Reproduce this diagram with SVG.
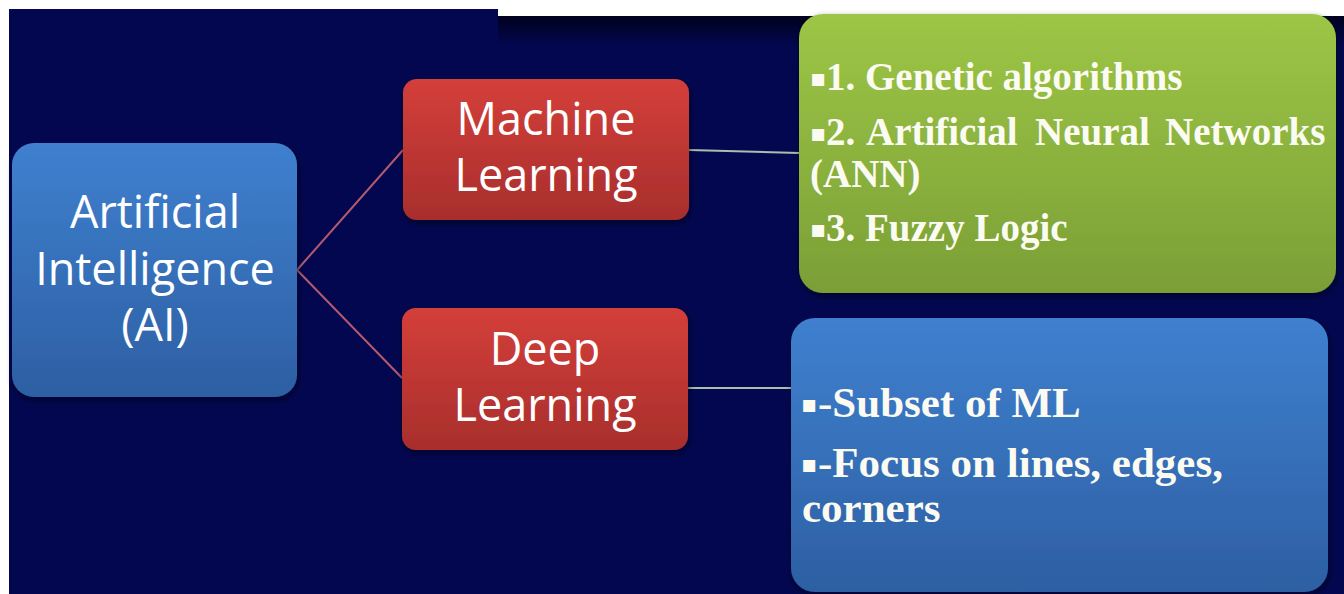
<svg xmlns="http://www.w3.org/2000/svg" width="1344" height="594" viewBox="0 0 1344 594">
  <defs>
    <linearGradient id="gBlue" x1="0" y1="0" x2="0" y2="1">
      <stop offset="0" stop-color="#3f80cf"/>
      <stop offset="1" stop-color="#2d5fa3"/>
    </linearGradient>
    <linearGradient id="gRed" x1="0" y1="0" x2="0" y2="1">
      <stop offset="0" stop-color="#d43f3a"/>
      <stop offset="1" stop-color="#a82e2c"/>
    </linearGradient>
    <linearGradient id="gGreen" x1="0" y1="0" x2="0" y2="1">
      <stop offset="0" stop-color="#9dc646"/>
      <stop offset="1" stop-color="#7b9f36"/>
    </linearGradient>
    <linearGradient id="gShade" x1="0" y1="0" x2="0" y2="1">
      <stop offset="0" stop-color="#000018" stop-opacity="0.9"/>
      <stop offset="1" stop-color="#000018" stop-opacity="0"/>
    </linearGradient>
    <filter id="drop" x="-5%" y="-5%" width="110%" height="115%">
      <feDropShadow dx="1" dy="3" stdDeviation="3" flood-color="#000010" flood-opacity="0.6"/>
    </filter>
  </defs>
  <style>
    .lbl { font-family: "Open Sans", "Noto Sans", sans-serif; font-size: 45px; fill: #ffffff; text-anchor: middle; }
    .bul { font-family: "Liberation Serif", "Times New Roman", serif; font-weight: bold; font-size: 39px; fill: #fbfbf2; }
    .big { font-size: 43px; }
    .sq { font-family: "DejaVu Sans", sans-serif; font-size: 24px; }
    .ln-red { stroke: #b45a6c; stroke-width: 2; fill: none; }
    .ln-pale { stroke: #a9bfae; stroke-width: 2; fill: none; }
  </style>

  <!-- page and slide backdrop -->
  <rect x="0" y="0" width="1344" height="594" fill="#ffffff"/>
  <rect x="9" y="9" width="1335" height="585" fill="#03074f"/>
  <rect x="498" y="16" width="846" height="30" fill="url(#gShade)"/>
  <rect x="498" y="0" width="846" height="16" fill="#ffffff"/>

  <!-- connectors -->
  <g id="connectors">
    <path class="ln-red" d="M297 270 L403 150"/>
    <path class="ln-red" d="M297 270 L402 378"/>
    <path class="ln-pale" d="M689 150 L799 153"/>
    <path class="ln-pale" d="M688 388 L791 388"/>
  </g>

  <!-- root concept -->
  <g id="node-ai">
    <rect x="12" y="143" width="285" height="254" rx="22" fill="url(#gBlue)" filter="url(#drop)"/>
    <text class="lbl" x="155" y="228">Artificial</text>
    <text class="lbl" x="155" y="285">Intelligence</text>
    <text class="lbl" x="155" y="341">(AI)</text>
  </g>

  <g id="node-ml">
    <rect x="403" y="79" width="286" height="141" rx="14" fill="url(#gRed)" filter="url(#drop)"/>
    <text class="lbl" x="546" y="135">Machine</text>
    <text class="lbl" x="546" y="191">Learning</text>
  </g>

  <g id="node-dl">
    <rect x="402" y="308" width="286" height="142" rx="14" fill="url(#gRed)" filter="url(#drop)"/>
    <text class="lbl" x="545" y="365">Deep</text>
    <text class="lbl" x="545" y="421">Learning</text>
  </g>

  <!-- machine learning techniques -->
  <g id="node-ml-list">
    <rect x="799" y="14" width="537" height="279" rx="24" fill="url(#gGreen)" filter="url(#drop)"/>
    <text class="bul" y="90"><tspan class="sq" x="810" dy="-4">▪</tspan><tspan x="826" dy="4">1. Genetic algorithms</tspan></text>
    <text class="bul" y="145"><tspan class="sq" x="810" dy="-4">▪</tspan><tspan x="826" dy="4">2.</tspan><tspan x="866">Artificial</tspan><tspan x="1035">Neural</tspan><tspan x="1165">Networks</tspan></text>
    <text class="bul" x="810" y="187">(ANN)</text>
    <text class="bul" y="241"><tspan class="sq" x="810" dy="-4">▪</tspan><tspan x="826" dy="4">3. Fuzzy Logic</tspan></text>
  </g>

  <!-- deep learning notes -->
  <g id="node-dl-list">
    <rect x="791" y="318" width="537" height="274" rx="24" fill="url(#gBlue)" filter="url(#drop)"/>
    <text class="bul big" y="417"><tspan class="sq" x="801" dy="-5">▪</tspan><tspan x="818" dy="5">-Subset of ML</tspan></text>
    <text class="bul big" y="477"><tspan class="sq" x="801" dy="-5">▪</tspan><tspan x="818" dy="5">-Focus on lines, edges,</tspan></text>
    <text class="bul big" x="802" y="522">corners</text>
  </g>
</svg>
